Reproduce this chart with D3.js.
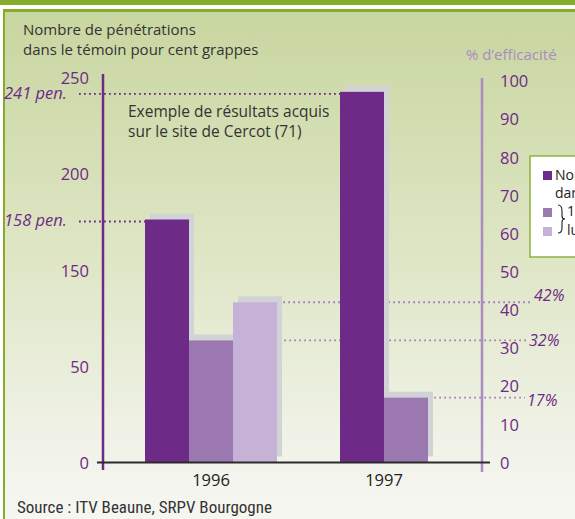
<!DOCTYPE html>
<html>
<head>
<meta charset="utf-8">
<script src="https://cdn.jsdelivr.net/npm/d3@7"></script>
<style>
  html, body { margin: 0; padding: 0; background: #ffffff; }
  svg { display: block; }
  .round { font-family: "Open Sans", "Noto Sans", sans-serif; }
  .narrow { font-family: "Liberation Sans Narrow", "Roboto Condensed", "Liberation Sans", sans-serif; }
</style>
</head>
<body>
<svg id="chart" width="575" height="519"></svg>
<script>
// Campaign years and measured values
const years = ["1996", "1997"];
const penetrations = [158, 241];          // penetrations per hundred bunches in the untreated control
const efficacyA = [32, 17];               // % efficacy, first programme
const efficacyB = [42, null];             // % efficacy, second programme
const penLabels = ["241 pen.", "158 pen."];
const leftTickLabels = ["0", "50", "150", "200", "250"];
const rightTicks = [0, 10, 20, 30, 40, 50, 60, 70, 80, 90, 100];
const legendLabels = ["Nombre de pénétrations", "dans le témoin", "1 traitement", "lutte raisonnée"];

const W = 575, H = 519;
const C = {
  green: "#86ac2c", dark: "#6e2a87", mid: "#9c78b0", light: "#c6b2d6",
  axisR: "#a98cc0", shadow: "#d2d3d6", text: "#333333"
};

const svg = d3.select("#chart");
const defs = svg.append("defs");
const grad = defs.append("linearGradient").attr("id", "bg").attr("x1", 0).attr("y1", 0).attr("x2", 0).attr("y2", 1);
grad.append("stop").attr("offset", "0%").attr("stop-color", "#c8d6a0");
grad.append("stop").attr("offset", "45%").attr("stop-color", "#dde5c3");
grad.append("stop").attr("offset", "85%").attr("stop-color", "#f1f3e9");
grad.append("stop").attr("offset", "100%").attr("stop-color", "#f7f7f3");

// frame: top band, thin rule, panel with green border on the left
svg.append("rect").attr("x", 0).attr("y", 0).attr("width", W).attr("height", 5).attr("fill", C.green);
svg.append("rect").attr("x", 3).attr("y", 9).attr("width", W).attr("height", H).attr("fill", "url(#bg)");
svg.append("rect").attr("x", 3).attr("y", 9).attr("width", W).attr("height", 3).attr("fill", C.green);
svg.append("rect").attr("x", 3).attr("y", 9).attr("width", 2).attr("height", H).attr("fill", C.green);

// scales
const y0 = 462.5;
const yL = d3.scaleLinear().domain([0, 250]).range([y0, 78]);
const yR = d3.scaleLinear().domain([0, 100]).range([y0, 81]);
const xG = d3.scaleBand().domain(years).range([145, 472]).paddingInner(63 / 195).paddingOuter(0);
const series = ["pen", "a", "b"];
const xS = d3.scaleBand().domain(series).range([0, xG.bandwidth()]);

// bar records
const bars = [];
years.forEach((yr, i) => {
  bars.push({ yr, key: "pen", v: penetrations[i], y: yL(penetrations[i]), color: C.dark });
  if (efficacyA[i] != null) bars.push({ yr, key: "a", v: efficacyA[i], y: yR(efficacyA[i]), color: C.mid });
  if (efficacyB[i] != null) bars.push({ yr, key: "b", v: efficacyB[i], y: yR(efficacyB[i]), color: C.light });
});
bars.forEach(b => { b.x = xG(b.yr) + xS(b.key); b.w = xS.bandwidth(); });

// dotted guides to the % labels (behind the bars)
const gGuides = svg.append("g");
const pctBars = bars.filter(b => b.key !== "pen");
const pctDy = { 42: -1, 32: 6, 17: 8 };
const pctEnd = { 42: 532, 32: 527, 17: 525 };
pctBars.forEach(b => {
  gGuides.append("line")
    .attr("x1", b.x + b.w * 0.8).attr("x2", pctEnd[b.v])
    .attr("y1", b.y).attr("y2", b.y)
    .attr("stroke", "#a57fc0").attr("stroke-width", 1.8)
    .attr("stroke-dasharray", "1.8,3.2");
  svg.append("text").attr("class", "round")
    .attr("x", pctEnd[b.v] + 2).attr("y", b.y + pctDy[b.v])
    .attr("font-size", 16).attr("font-style", "italic").attr("fill", C.dark)
    .text(b.v + "%");
});

// dotted guides to the penetration labels
const penBars = bars.filter(b => b.key === "pen").sort((a, b) => b.v - a.v);
penBars.forEach((b, i) => {
  gGuides.append("line")
    .attr("x1", 79).attr("x2", b.x)
    .attr("y1", b.y + 2).attr("y2", b.y + 2)
    .attr("stroke", C.dark).attr("stroke-width", 1.8)
    .attr("stroke-dasharray", "1.8,3.2");
  svg.append("text").attr("class", "round")
    .attr("x", 4).attr("y", b.y + 7)
    .attr("font-size", 16.5).attr("font-style", "italic").attr("fill", C.dark)
    .text(penLabels[i]);
});

// shadows then bars
svg.append("g").selectAll("rect").data(bars).join("rect")
  .attr("x", d => d.x + 5).attr("y", d => d.y - 6)
  .attr("width", d => d.w).attr("height", d => y0 - d.y)
  .attr("fill", C.shadow);
svg.append("g").selectAll("rect").data(bars).join("rect")
  .attr("x", d => d.x).attr("y", d => d.y)
  .attr("width", d => d.w).attr("height", d => y0 - d.y)
  .attr("fill", d => d.color);

// axes
svg.append("line").attr("x1", 103).attr("x2", 103).attr("y1", 74).attr("y2", 470)
  .attr("stroke", C.dark).attr("stroke-width", 2.5);
svg.append("line").attr("x1", 482).attr("x2", 482).attr("y1", 78).attr("y2", 472)
  .attr("stroke", C.axisR).attr("stroke-width", 2.5);
svg.append("line").attr("x1", 97).attr("x2", 490).attr("y1", y0).attr("y2", y0)
  .attr("stroke", "#2b2b2b").attr("stroke-width", 2);

// left tick labels, evenly spaced over the axis
const leftAxis = d3.axisLeft(yL)
  .tickValues(leftTickLabels.map((_, i) => 250 * i / (leftTickLabels.length - 1)))
  .tickFormat((_, i) => leftTickLabels[i]).tickSize(0).tickPadding(0);
const gl = svg.append("g").attr("transform", "translate(89,0)").call(leftAxis);
gl.select(".domain").remove();
gl.selectAll("text").attr("class", "round").attr("font-size", 16.5).attr("fill", C.dark).attr("dy", "0.35em");

const rightAxis = d3.axisRight(yR).tickValues(rightTicks).tickSize(0).tickPadding(0);
const gr = svg.append("g").attr("transform", "translate(500,0)").call(rightAxis);
gr.select(".domain").remove();
gr.selectAll("text").attr("class", "round").attr("font-size", 16.5).attr("fill", C.dark).attr("dy", "0.35em");

// category labels centred under each group's bars
years.forEach(yr => {
  const bs = bars.filter(b => b.yr === yr);
  const cx = (d3.min(bs, b => b.x) + d3.max(bs, b => b.x + b.w)) / 2;
  svg.append("text").attr("class", "round").attr("x", cx).attr("y", 486)
    .attr("text-anchor", "middle").attr("font-size", 16.5).attr("fill", "#222").text(yr);
});

// titles and notes
const title = svg.append("text").attr("class", "round").attr("font-size", 15).attr("fill", C.text);
title.append("tspan").attr("x", 23).attr("y", 35).text("Nombre de pénétrations");
title.append("tspan").attr("x", 23).attr("y", 55).text("dans le témoin pour cent grappes");

svg.append("text").attr("class", "round").attr("x", 466).attr("y", 60)
  .attr("font-size", 15).attr("fill", C.axisR).text("% d’efficacité");

const note = svg.append("text").attr("class", "round").attr("font-size", 15.5).attr("fill", C.text);
note.append("tspan").attr("x", 128).attr("y", 117).text("Exemple de résultats acquis");
note.append("tspan").attr("x", 128).attr("y", 137).text("sur le site de Cercot (71)");

svg.append("text").attr("class", "narrow").attr("x", 17).attr("y", 513)
  .attr("font-size", 17).attr("fill", C.text).text("Source : ITV Beaune, SRPV Bourgogne");

// legend (runs off the right edge of the panel)
const lg = svg.append("g");
lg.append("rect").attr("x", 530).attr("y", 156).attr("width", 80).attr("height", 101)
  .attr("fill", "#ffffff").attr("stroke", "#8db33c").attr("stroke-width", 1.5);
const swatches = [C.dark, C.mid, C.light];
const swY = [171, 208, 227];
swatches.forEach((c, i) => lg.append("rect").attr("x", 543).attr("y", swY[i]).attr("width", 9).attr("height", 9).attr("fill", c));
lg.append("text").attr("class", "round").attr("x", 555).attr("y", 180).attr("font-size", 14).attr("fill", "#222").text(legendLabels[0]);
lg.append("text").attr("class", "round").attr("x", 555).attr("y", 198).attr("font-size", 14).attr("fill", "#222").text(legendLabels[1]);
lg.append("path").attr("d", "M558,205 Q562,205 562,211 L562,216 Q562,219 565,219 Q562,219 562,222 L562,228 Q562,233 558,233")
  .attr("fill", "none").attr("stroke", "#222").attr("stroke-width", 1.1);
lg.append("text").attr("class", "round").attr("x", 567).attr("y", 216).attr("font-size", 14).attr("fill", "#222").text(legendLabels[2]);
lg.append("text").attr("class", "round").attr("x", 567).attr("y", 235).attr("font-size", 14).attr("fill", "#222").text(legendLabels[3]);
</script>
</body>
</html>
